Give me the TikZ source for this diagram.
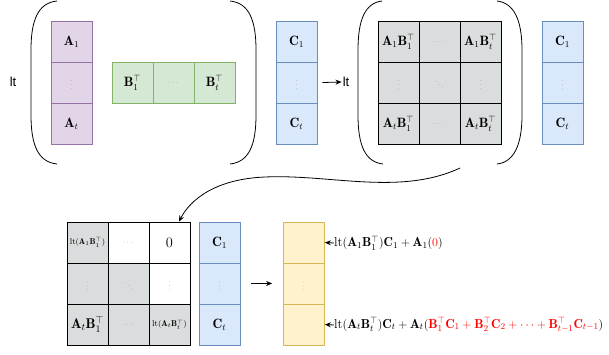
\documentclass[tikz,border=0pt]{standalone}
\usepackage{amsmath,amssymb}
\usepackage{fontspec}
\newfontfamily\helv{Liberation Sans}
\usetikzlibrary{arrows.meta}
\definecolor{pfill}{HTML}{E1D5E7}\definecolor{pdraw}{HTML}{9673A6}
\definecolor{gfill}{HTML}{D5E8D4}\definecolor{gdraw}{HTML}{82B366}
\definecolor{bfill}{HTML}{DAE8FC}\definecolor{bdraw}{HTML}{6C8EBF}
\definecolor{yfill}{HTML}{FFF2CC}\definecolor{ydraw}{HTML}{D6B656}
\definecolor{kfill}{HTML}{DADDDD}
\definecolor{dotc}{HTML}{8A8A8A}
\begin{document}
\begin{tikzpicture}[x=1pt,y=-1pt,
  cell/.style={minimum width=41pt,minimum height=41pt,inner sep=0pt,line width=0.8pt,font=\fontsize{13.5}{15}\selectfont},
  pcell/.style={cell,draw=pdraw,fill=pfill},
  gcell/.style={cell,draw=gdraw,fill=gfill},
  bcell/.style={cell,draw=bdraw,fill=bfill},
  ycell/.style={cell,draw=ydraw,fill=yfill},
  kcell/.style={cell,draw=black,fill=kfill},
  wcell/.style={cell,draw=black,fill=white},
  paren/.style={line width=0.8pt},
  arr/.style={-{Stealth[length=6pt,width=5pt]},line width=0.8pt},
  lttext/.style={font=\helv\fontsize{13}{15}\selectfont,inner sep=0pt},
  lbl/.style={anchor=west,inner sep=0pt,font=\fontsize{13}{15}\selectfont}]
\useasboundingbox (0,0) rectangle (609,354);
\newcommand{\dd}[1]{\textcolor{dotc}{\scriptsize$#1$}}
% ---------- top left group
\node[lttext] (lt1) at (13,82) {lt};
\draw[paren] (57,1) .. controls (38,3) and (31,20) .. (31,50) -- (31,115) .. controls (31,145) and (38,162) .. (57,164);
\draw[paren] (230,1) .. controls (249,3) and (256,20) .. (256,50) -- (256,115) .. controls (256,145) and (249,162) .. (230,164);
\node[pcell] (a1) at (71.5,41.5) {$\mathbf{A}_1$};
\node[pcell] (a2) at (71.5,82.5) {\dd{\vdots}};
\node[pcell] (a3) at (71.5,123.5) {$\mathbf{A}_t$};
\node[gcell] (b1) at (132.5,82.5) {$\mathbf{B}_1^\top$};
\node[gcell] (b2) at (173.5,82.5) {\dd{\cdots}};
\node[gcell] (b3) at (214.5,82.5) {$\mathbf{B}_t^\top$};
\node[bcell] (c1) at (296.5,41.5) {$\mathbf{C}_1$};
\node[bcell] (c2) at (296.5,82.5) {\dd{\vdots}};
\node[bcell] (c3) at (296.5,123.5) {$\mathbf{C}_t$};
% ---------- top right group
\node[lttext] (lt2) at (346,82) {lt};
\draw[arr] ([xshift=5pt]c2.east) -- ([xshift=-1pt]lt2.west);
\draw[paren] (382,1) .. controls (365,3) and (358,20) .. (358,50) -- (358,115) .. controls (358,145) and (365,162) .. (383,164);
\draw[paren] (497,1) .. controls (514,3) and (522,20) .. (522,50) -- (522,115) .. controls (522,145) and (514,162) .. (497,164);
\node[kcell] (m11) at (398.5,41.5) {$\mathbf{A}_1\mathbf{B}_1^\top$};
\node[kcell] (m12) at (439.5,41.5) {\dd{\cdots}};
\node[kcell] (m13) at (480.5,41.5) {$\mathbf{A}_1\mathbf{B}_t^\top$};
\node[kcell] (m21) at (398.5,82.5) {\dd{\vdots}};
\node[kcell] (m22) at (439.5,82.5) {\dd{\ddots}};
\node[kcell] (m23) at (480.5,82.5) {\dd{\vdots}};
\node[kcell] (m31) at (398.5,123.5) {$\mathbf{A}_t\mathbf{B}_1^\top$};
\node[kcell] (m32) at (439.5,123.5) {\dd{\cdots}};
\node[kcell] (m33) at (480.5,123.5) {$\mathbf{A}_t\mathbf{B}_t^\top$};
\node[bcell] (d1) at (562.5,41.5) {$\mathbf{C}_1$};
\node[bcell] (d2) at (562.5,82.5) {\dd{\vdots}};
\node[bcell] (d3) at (562.5,123.5) {$\mathbf{C}_t$};
% ---------- bottom
\node[kcell,font=\fontsize{8.5}{10}\selectfont] (g11) at (87.5,242.5) {$\mathrm{lt}(\mathbf{A}_1\mathbf{B}_1^\top)$};
\node[wcell] (g12) at (128.5,242.5) {\dd{\cdots}};
\node[wcell] (g13) at (169.5,242.5) {$0$};
\node[kcell] (g21) at (87.5,283.5) {\dd{\vdots}};
\node[kcell] (g22) at (128.5,283.5) {\dd{\ddots}};
\node[wcell] (g23) at (169.5,283.5) {\dd{\vdots}};
\node[kcell,font=\fontsize{14}{16}\selectfont] (g31) at (87.5,324.5) {$\mathbf{A}_t\mathbf{B}_1^\top$};
\node[kcell] (g32) at (128.5,324.5) {\dd{\cdots}};
\node[kcell,font=\fontsize{8.5}{10}\selectfont] (g33) at (169.5,324.5) {$\mathrm{lt}(\mathbf{A}_t\mathbf{B}_t^\top)$};
\node[bcell] (e1) at (219.5,242.5) {$\mathbf{C}_1$};
\node[bcell] (e2) at (219.5,283.5) {\dd{\vdots}};
\node[bcell] (e3) at (219.5,324.5) {$\mathbf{C}_t$};
\node[ycell] (y1) at (304,242.5) {};
\node[ycell] (y2) at (304,283.5) {\dd{\vdots}};
\node[ycell] (y3) at (304,324.5) {};
\draw[arr] ([xshift=11pt]e2.east) -- ([xshift=-11pt]y2.west);
\node[lbl] (l1) at (334,243) {$\mathrm{lt}(\mathbf{A}_1\mathbf{B}_1^\top)\mathbf{C}_1+\mathbf{A}_1(\textcolor{red}{0})$};
\node[lbl] (l2) at (334,325) {$\mathrm{lt}(\mathbf{A}_t\mathbf{B}_t^\top)\mathbf{C}_t+\mathbf{A}_t(\textcolor{red}{\mathbf{B}_1^\top\mathbf{C}_1+\mathbf{B}_2^\top\mathbf{C}_2+\cdots+\mathbf{B}_{t-1}^\top\mathbf{C}_{t-1}})$};
\draw[arr] (l1.west) -- (y1.east);
\draw[arr] (l2.west) -- (y3.east);
% ---------- curved connector
\coordinate (cs) at (460,168);
\draw[arr] (cs) .. controls (400,196) and (330,174) .. (265,177) .. controls (215,179) and (190,200) .. ([xshift=9.5pt]g13.north);
\end{tikzpicture}
\end{document}
